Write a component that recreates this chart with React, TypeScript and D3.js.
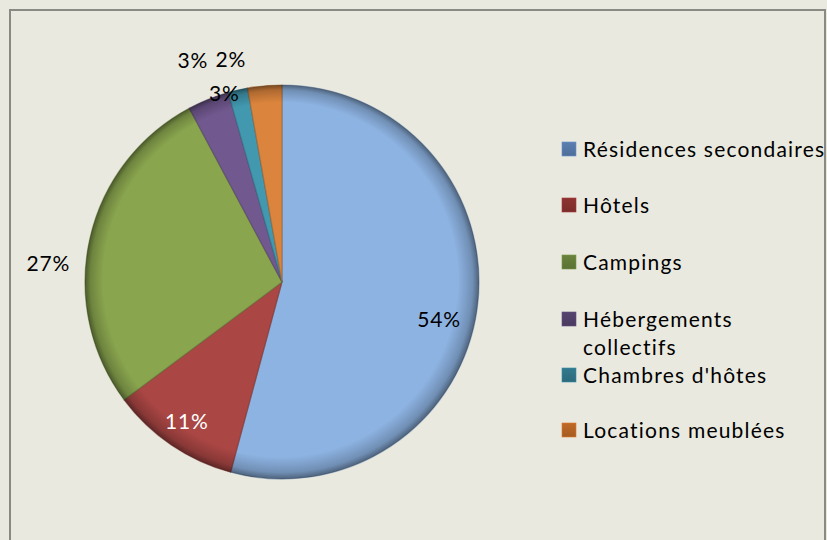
import React from 'react';
import * as d3 from 'd3';

// slice data (clockwise from 12 o'clock)
const categories = [
  'Résidences secondaires',
  'Hôtels',
  'Campings',
  'Hébergements collectifs',
  "Chambres d'hôtes",
  'Locations meublées',
];
const shares = [54.2, 10.6, 27.4, 3.4, 1.6, 2.8];
const sliceColors = ['#8db3e2', '#aa4644', '#89a54e', '#71588f', '#4198af', '#db843d'];
const legendColors = ['#4f6e99', '#7b2c2b', '#5b7234', '#4a3a60', '#2c6a7b', '#a65b22'];
// legend text lines (wrapped like the original)
const legendLines = [
  ['Résidences secondaires'],
  ['Hôtels'],
  ['Campings'],
  ['Hébergements', 'collectifs'],
  ["Chambres d'hôtes"],
  ['Locations meublées'],
];

// label placement: radius factor and angle nudge (degrees)
const labelRadius = [0.82, 0.86, 1.19, 1.21, 1.16, 1.0];
const labelNudge = [6, 0, -8, 0, 0, -12];
const labelFill = ['#000', '#fff', '#000', '#000', '#000', '#000'];

const W = 827;
const H = 540;
const cx = 282;
const cy = 282;
const R = 197;
const FONT = 'Lato, "Open Sans", sans-serif';

export default function App() {
  const pie = d3.pie<number>().sort(null).value(d => d);
  const arcs = pie(shares);
  const arc = d3.arc<d3.PieArcDatum<number>>().innerRadius(0).outerRadius(R);

  const baselines = [157, 213, 270, 327, 383, 438];

  return (
    <svg
      width={W}
      height={H}
      style={{ position: 'absolute', left: 0, top: 0, background: '#e9e9df' }}
    >
      <defs>
        <radialGradient id="rim" cx="0.5" cy="0.5" r="0.5" fx="0.46" fy="0.44">
          <stop offset="0%" stopColor="#000" stopOpacity={0} />
          <stop offset="90%" stopColor="#000" stopOpacity={0} />
          <stop offset="97%" stopColor="#000" stopOpacity={0.2} />
          <stop offset="100%" stopColor="#000" stopOpacity={0.45} />
        </radialGradient>
        {legendColors.map((c, i) => (
          <linearGradient key={i} id={`lg${i}`} x1="0" y1="0" x2="0" y2="1">
            <stop offset="0%" stopColor={d3.color(c)!.brighter(0.4).toString()} />
            <stop offset="100%" stopColor={c} />
          </linearGradient>
        ))}
      </defs>
      <rect x={0} y={0} width={W} height={H} fill="#e9e9df" />
      <rect x={10} y={10} width={815} height={560} fill="none" stroke="#8a8a85" strokeWidth={2} />

      <g transform={`translate(${cx},${cy})`}>
        {arcs.map((a, i) => (
          <path
            key={i}
            d={arc(a) || ''}
            fill={sliceColors[i]}
            stroke={d3.color(sliceColors[i])!.darker(0.9).toString()}
            strokeOpacity={0.6}
            strokeWidth={1.2}
          />
        ))}
        <circle r={R} fill="url(#rim)" />
        {arcs.map((a, i) => {
          const mid = (a.startAngle + a.endAngle) / 2 + (labelNudge[i] * Math.PI) / 180;
          const r = R * labelRadius[i];
          return (
            <text
              key={i}
              x={Math.sin(mid) * r}
              y={-Math.cos(mid) * r}
              dy="0.35em"
              textAnchor="middle"
              fontFamily={FONT}
              fontSize={21}
              letterSpacing={0.8}
              fill={labelFill[i]}
            >
              {`${Math.round(a.data)}%`}
            </text>
          );
        })}
      </g>

      <g>
        {categories.map((c, i) => (
          <g key={c}>
            <rect
              x={562}
              y={baselines[i] - 15}
              width={14}
              height={14}
              fill={`url(#lg${i})`}
              stroke={d3.color(legendColors[i])!.brighter(0.8).toString()}
              strokeWidth={0.6}
            />
            <text x={583} y={baselines[i]} fontFamily={FONT} fontSize={21} letterSpacing={1.2} fill="#000">
              {legendLines[i].map((l, j) => (
                <tspan key={j} x={583} dy={j === 0 ? 0 : 28}>
                  {l}
                </tspan>
              ))}
            </text>
          </g>
        ))}
      </g>
    </svg>
  );
}
